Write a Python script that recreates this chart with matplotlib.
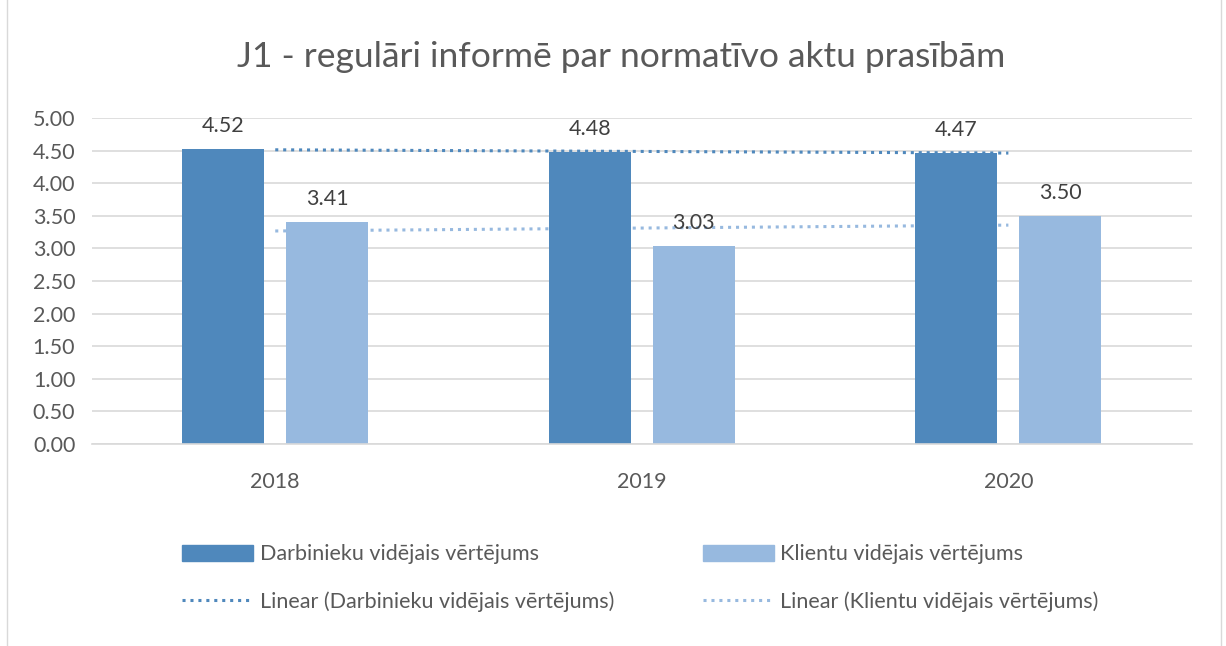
import numpy as np
import matplotlib.pyplot as plt
from matplotlib.lines import Line2D
from matplotlib.patches import Patch, Rectangle

years = ["2018", "2019", "2020"]
darbinieki = [4.52, 4.48, 4.47]
klienti = [3.41, 3.03, 3.50]

dark = "#4F88BC"
light = "#97B9DF"
text_col = "#595959"

plt.rcParams["font.family"] = ["Lato", "DejaVu Sans"]

fig = plt.figure(figsize=(12.26, 6.46), dpi=100)
fig.patches.append(Rectangle((0.006, -0.01), 0.99, 1.02, transform=fig.transFigure,
                             fill=False, edgecolor="#D9D9D9", linewidth=1))
ax = fig.add_axes([0.075, 0.313, 0.897, 0.504])

x = np.arange(len(years))
w = 0.224
off = 0.142

# trend lines behind the bars
for vals, col in [(darbinieki, dark), (klienti, light)]:
    k, b = np.polyfit(x, vals, 1)
    ax.plot(x, k * x + b, linestyle=(0, (1, 1.6)), color=col, linewidth=2.2, zorder=1)

b1 = ax.bar(x - off, darbinieki, w, color=dark, zorder=2)
b2 = ax.bar(x + off, klienti, w, color=light, zorder=2)

for bars, vals in [(b1, darbinieki), (b2, klienti)]:
    for r, v in zip(bars, vals):
        ax.text(r.get_x() + r.get_width() / 2, v + 0.2, f"{v:.2f}", ha="center",
                va="bottom", fontsize=15.5, color="#404040")

ax.set_xlim(-0.5, 2.5)
ax.set_ylim(0, 5)
ax.set_yticks(np.arange(0, 5.01, 0.5))
ax.set_yticklabels([f"{v:.2f}" for v in np.arange(0, 5.01, 0.5)])
ax.set_xticks(x)
ax.set_xticklabels(years)
ax.tick_params(axis="both", length=0, labelsize=15.5, colors=text_col)
ax.tick_params(axis="x", pad=20)
ax.tick_params(axis="y", pad=12)
ax.grid(axis="y", color="#D9D9D9", linewidth=1.2, zorder=0)
ax.set_axisbelow(True)
for s in ["top", "right", "left"]:
    ax.spines[s].set_visible(False)
ax.spines["bottom"].set_color("#D9D9D9")
ax.spines["bottom"].set_linewidth(1.2)

fig.text(0.507, 0.912, "J1 - regulāri informē par normatīvo aktu prasībām",
         ha="center", va="center", fontsize=25.5, color=text_col)

handles = [
    Patch(color=dark),
    Line2D([0], [0], color=dark, linestyle=(0, (1, 1.6)), linewidth=2.2),
    Patch(color=light),
    Line2D([0], [0], color=light, linestyle=(0, (1, 1.6)), linewidth=2.2),
]
labels = [
    "Darbinieku vidējais vērtējums",
    "Linear (Darbinieku vidējais vērtējums)",
    "Klientu vidējais vērtējums",
    "Linear (Klientu vidējais vērtējums)",
]
leg = fig.legend(handles, labels, ncol=2, loc="center left", bbox_to_anchor=(0.133, 0.105),
                 frameon=False, fontsize=15.5, labelcolor=text_col, handlelength=3.3,
                 handleheight=0.75, handletextpad=0.3, columnspacing=4.1, labelspacing=1.25)

fig.savefig("out.png", dpi=100)
